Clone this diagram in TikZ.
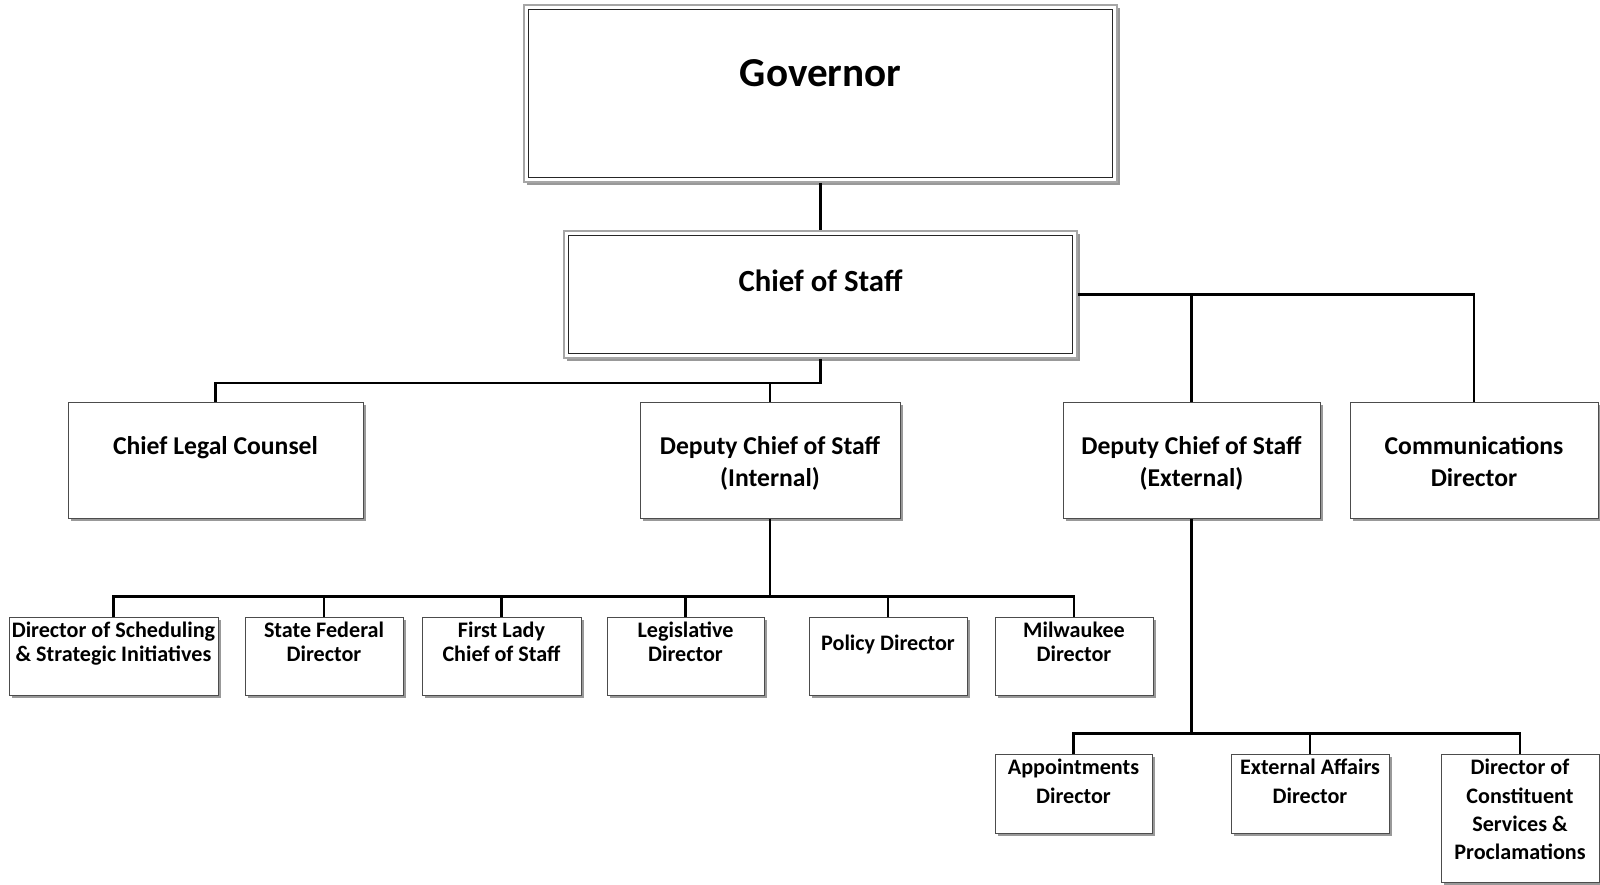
\documentclass[tikz,border=0pt]{standalone}
\usepackage{fontspec}
\setmainfont{Carlito}
\usetikzlibrary{positioning,shadows}

\tikzset{
  orgbox/.style n args={2}{draw=black!70, line width=0.2mm, fill=white,
    minimum width=#1*0.2mm, minimum height=#2*0.2mm, inner sep=0pt,
    drop shadow={shadow xshift=0.6mm, shadow yshift=-0.6mm, fill=black!40, opacity=1}},
  topbox/.style n args={2}{orgbox={#1}{#2}, draw=black!35, line width=0.3mm},
  innerline/.style={black!85, line width=0.25mm},
  link/.style={black, line width=0.5mm},
  txt/.style={inner sep=0pt, align=center, font=\bfseries},
  govtxt/.style={txt, font=\fontsize{23.4}{27}\selectfont\bfseries},
  costxt/.style={txt, font=\fontsize{17.5}{20}\selectfont\bfseries},
  midtxt/.style={txt, font=\fontsize{14.6}{18.2}\selectfont\bfseries},
  lowtxt/.style={txt, font=\fontsize{12.6}{13.4}\selectfont\bfseries},
  extxt/.style={txt, font=\fontsize{12.6}{16}\selectfont\bfseries}
}

\begin{document}
\begin{tikzpicture}[x=0.2mm, y=-0.2mm]
  \useasboundingbox (0,0) rectangle (1600,884);

  % Governor and Chief of Staff
  \node[topbox={593}{177}] (gov) at (820.5,93.5) {};
  \draw[innerline] ([shift={(1mm,-1mm)}]gov.north west) rectangle ([shift={(-1mm,1mm)}]gov.south east);
  \node[govtxt, below=11mm of gov.north] (gov-t) {Governor};

  \node[topbox={513}{127}] (cos) at (820.5,294.5) {};
  \draw[innerline] ([shift={(1mm,-1mm)}]cos.north west) rectangle ([shift={(-1mm,1mm)}]cos.south east);
  \node[costxt, below=7.8mm of cos.north] (cos-t) {Chief of Staff};

  % second row
  \node[orgbox={295}{116}] (clc) at (215.5,460) {};
  \node[midtxt, below=7mm of clc.north] (clc-t) {Chief Legal Counsel};
  \node[orgbox={260}{116}] (dci) at (770,460) {};
  \node[midtxt, below=7mm of dci.north] (dci-t) {Deputy Chief of Staff\\(Internal)};
  \node[orgbox={257}{116}] (dce) at (1191.5,460) {};
  \node[midtxt, below=7mm of dce.north] (dce-t) {Deputy Chief of Staff\\(External)};
  \node[orgbox={248}{116}] (com) at (1474,460) {};
  \node[midtxt, below=7mm of com.north] (com-t) {Communications\\Director};

  % internal staff
  \node[orgbox={209}{78}] (sch) at (113.5,656) {};
  \node[lowtxt, below=1.1mm of sch.north] (sch-t) {Director of Scheduling\\\& Strategic Initiatives};
  \node[orgbox={158}{78}] (sfd) at (324,656) {};
  \node[lowtxt, below=1.1mm of sfd.north] (sfd-t) {State Federal\\Director};
  \node[orgbox={159}{78}] (flc) at (501.5,656) {};
  \node[lowtxt, below=1.1mm of flc.north] (flc-t) {First Lady\\Chief of Staff};
  \node[orgbox={157}{78}] (leg) at (685.5,656) {};
  \node[lowtxt, below=1.1mm of leg.north] (leg-t) {Legislative\\Director};
  \node[orgbox={158}{78}] (pol) at (888,656) {};
  \node[lowtxt, below=3.6mm of pol.north] (pol-t) {Policy Director};
  \node[orgbox={158}{78}] (mil) at (1074,656) {};
  \node[lowtxt, below=1.1mm of mil.north] (mil-t) {Milwaukee\\Director};

  % external staff
  \node[orgbox={157}{79}] (app) at (1073.5,793.5) {};
  \node[extxt, below=1.1mm of app.north] (app-t) {Appointments\\Director};
  \node[orgbox={158}{79}] (ext) at (1310,793.5) {};
  \node[extxt, below=1.1mm of ext.north] (ext-t) {External Affairs\\Director};
  \node[orgbox={158}{128}] (con) at (1520,818) {};
  \node[extxt, below=1.1mm of con.north] (con-t) {Director of\\Constituent\\Services \&\\Proclamations};

  % connectors
  \draw[link] (gov.south) -- (cos.north);
  \coordinate (bus2) at ([yshift=-4.8mm]cos.south);
  \draw[link] (cos.south) -- (bus2) -| (clc.north);
  \draw[link] (bus2) -| (dci.north);
  \draw[link] (cos.east) -| (dce.north);
  \draw[link] (cos.east) -| (com.north);

  \coordinate (bus3) at ([yshift=-15.6mm]dci.south);
  \draw[link] (dci.south) -- (bus3);
  \foreach \n in {sch,sfd,flc,leg,pol,mil}
    \draw[link] (bus3) -| (\n.north);

  \coordinate (bus4) at ([yshift=-43mm]dce.south);
  \draw[link] (dce.south) -- (bus4);
  \foreach \n in {app,ext,con}
    \draw[link] (bus4) -| (\n.north);
\end{tikzpicture}
\end{document}
